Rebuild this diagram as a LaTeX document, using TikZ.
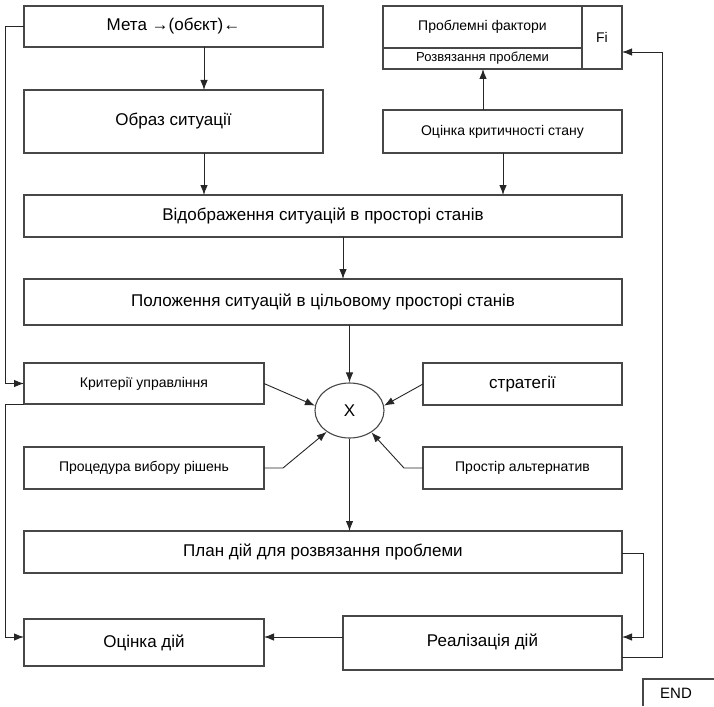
\documentclass[tikz,border=0pt]{standalone}
\usepackage{fontspec}
\setmainfont{Liberation Sans}
\usetikzlibrary{arrows.meta,shapes.geometric}

\begin{document}
\begin{tikzpicture}[x=1pt,y=-1pt,
  frame/.style={draw=black!72, line width=1.1pt, inner sep=0pt, outer sep=0pt,
    font=\fontsize{17}{20}\selectfont},
  small/.style={font=\fontsize{14}{16}\selectfont},
  link/.style={draw=black!85, line width=0.9pt},
  arr/.style={link, -{Latex[length=10pt,width=7.5pt]}}]
\useasboundingbox (0,0) rectangle (714,706);

% left column and wide blocks
\node[frame, minimum width=299, minimum height=41] (meta) at (173.5,26.5) {Мета →(обєкт)←};
\node[frame, minimum width=299, minimum height=63] (obraz) at (173.5,121.5) {Образ ситуації};
\node[frame, minimum width=598, minimum height=42] (vid) at (323,216) {Відображення ситуацій в просторі станів};
\node[frame, minimum width=598, minimum height=46] (pol) at (323,302) {Положення ситуацій в цільовому просторі станів};

% problem block with the Fi column
\node[frame, small, minimum width=199, minimum height=42] (pf) at (482.5,27) {Проблемні фактори};
\node[frame, font=\fontsize{13}{15}\selectfont, minimum width=199, minimum height=21] (rp) at (482.5,58.5) {Розвязання проблеми};
\node[frame, small, minimum width=40, minimum height=63] (fi) at (602,37.5) {Fi};
\node[frame, small, minimum width=239, minimum height=43] (ocr) at (502.5,131.5) {Оцінка критичності стану};

% decision inputs around the X node
\node[frame, small, minimum width=240, minimum height=41] (kr) at (144,383.5) {Критерії управління};
\node[frame, minimum width=199, minimum height=42] (str) at (522.5,384) {стратегії};
\node[frame, small, minimum width=240, minimum height=42] (proc) at (144,468) {Процедура вибору рішень};
\node[frame, small, minimum width=199, minimum height=42] (pros) at (522.5,468) {Простір альтернатив};
\node[draw=black!72, line width=1.1pt, ellipse, inner sep=0pt, minimum width=69, minimum height=55,
  font=\fontsize{17}{20}\selectfont] (x) at (349.5,410.5) {X};

% plan, realisation, evaluation
\node[frame, minimum width=598, minimum height=42] (plan) at (323,552) {План дій для розвязання проблеми};
\node[frame, minimum width=279, minimum height=54] (real) at (482.5,643) {\raisebox{6pt}{Реалізація дій}};
\node[frame, minimum width=240, minimum height=47] (ocd) at (144,642.5) {\raisebox{-4pt}{Оцінка дій}};

% END tab at the page corner
\node[font=\fontsize{15}{18}\selectfont] (endtab) at (676,693) {END};
\draw[draw=black!72, line width=1.1pt] (643,706) |- (714,679);

% connectors
\draw[arr] (meta.south -| 204,0) -- (obraz.north -| 204,0);
\draw[arr] (obraz.south -| 204,0) -- (vid.north -| 204,0);
\draw[arr] (ocr.north -| 483,0) -- (rp.south -| 483,0);
\draw[arr] (ocr.south -| 503,0) -- (vid.north -| 503,0);
\draw[arr] (vid.south -| 343,0) -- (pol.north -| 343,0);
\draw[arr] (pol.south -| x.north) -- (x.north);
\draw[arr] (kr.east) -- (x.172);
\draw[arr] (str.west) -- (x.8);
\draw[arr] (proc.east) -- ++(19,0) -- (x.223);
\draw[arr] (pros.west) -- ++(-19,0) -- (x.315);
\draw[arr] (x.south) -- (plan.north -| x.south);
\draw[arr] (meta.west) -- ++(-19,0) |- (kr.west);
\draw[arr] (kr.south west) -- ++(-19,0) |- (ocd.west |- 0,637);
\draw[arr] (real.west |- 0,637) -- (ocd.east |- 0,637);
\draw[arr] (plan.east |- 0,553) -- ++(21,0) |- (real.east |- 0,637);
\draw[arr] (real.east |- 0,657) -- ++(40,0) |- (fi.east |- 0,52);
\end{tikzpicture}
\end{document}
